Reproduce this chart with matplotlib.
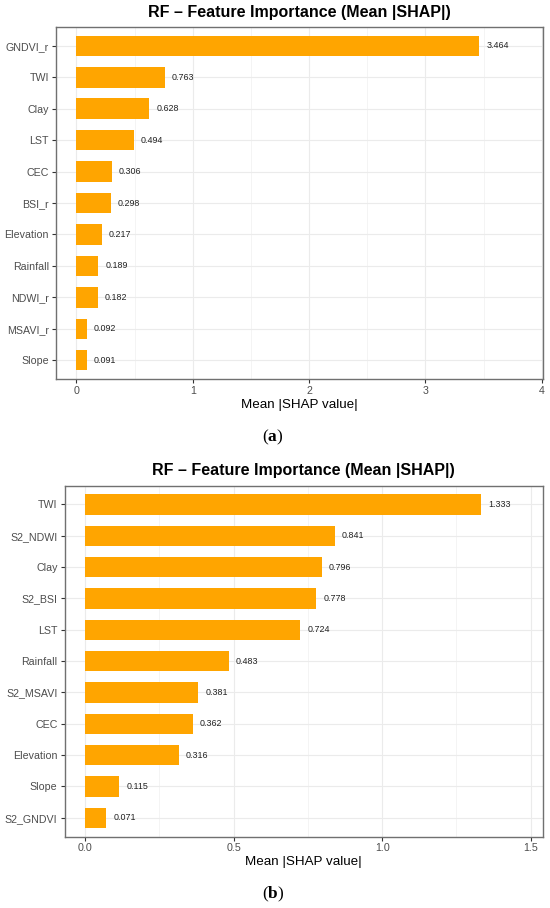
import matplotlib
matplotlib.use("Agg")
import matplotlib.pyplot as plt
from matplotlib.ticker import MultipleLocator

plt.rcParams['font.family'] = ['Liberation Sans', 'DejaVu Sans']
plt.rcParams['mathtext.fontset'] = 'custom'
plt.rcParams['mathtext.rm'] = 'Liberation Serif'
plt.rcParams['mathtext.bf'] = 'Liberation Serif:bold'

title_text = "RF – Feature Importance (Mean |SHAP|)"
xlabel_text = "Mean |SHAP value|"

features_a = ["GNDVI_r", "TWI", "Clay", "LST", "CEC", "BSI_r", "Elevation",
              "Rainfall", "NDWI_r", "MSAVI_r", "Slope"]
values_a = [3.464, 0.763, 0.628, 0.494, 0.306, 0.298, 0.217, 0.189, 0.182, 0.092, 0.091]
ticks_a = [0, 1, 2, 3, 4]
ticklabels_a = ["0", "1", "2", "3", "4"]

features_b = ["TWI", "S2_NDWI", "Clay", "S2_BSI", "LST", "Rainfall", "S2_MSAVI",
              "CEC", "Elevation", "Slope", "S2_GNDVI"]
values_b = [1.333, 0.841, 0.796, 0.778, 0.724, 0.483, 0.381, 0.362, 0.316, 0.115, 0.071]
ticks_b = [0.0, 0.5, 1.0, 1.5]
ticklabels_b = ["0.0", "0.5", "1.0", "1.5"]

BAR = "#FFA500"
W, H = 550, 908
fig = plt.figure(figsize=(W / 100, H / 100), dpi=100)


def panel(rect, feats, vals, ticks, tlabels, xlim, minor, title_y, caption, cap_y):
    ax = fig.add_axes(rect)
    f = feats[::-1]
    v = vals[::-1]
    ax.barh(f, v, height=0.65, color=BAR, edgecolor="none", zorder=2)
    for name, val in zip(f, v):
        ax.annotate(f"{val:.3f}", xy=(val, name), xytext=(5, 0),
                    textcoords="offset points", va="center", ha="left",
                    fontsize=6.4, color="#222222", zorder=3)
    ax.set_xlim(*xlim)
    ax.set_ylim(-0.6, len(f) - 0.4)
    ax.set_xticks(ticks)
    ax.set_xticklabels(tlabels)
    ax.xaxis.set_minor_locator(MultipleLocator(minor))
    ax.grid(True, which="major", axis="both", color="#EBEBEB", lw=0.8, zorder=0)
    ax.grid(True, which="minor", axis="x", color="#F2F2F2", lw=0.6, zorder=0)
    ax.set_axisbelow(True)
    ax.tick_params(axis="both", which="major", length=3, width=0.8, color="#333333",
                   labelsize=7.7, labelcolor="#4D4D4D", pad=2)
    ax.tick_params(axis="x", which="minor", length=0)
    for s in ax.spines.values():
        s.set_color("#707070")
        s.set_linewidth(1.0)
    ax.set_xlabel(xlabel_text, fontsize=9.6, color="black", labelpad=2)
    cx = rect[0] + rect[2] / 2
    fig.text(cx, 1 - title_y / H, title_text, ha="center", va="center",
             fontsize=11.5, fontweight="bold", color="black")
    fig.text(273 / W, 1 - cap_y / H, "($\\mathbf{" + caption + "}$)",
             ha="center", va="center", fontsize=12.5, family="Liberation Serif",
             color="black")
    return ax


panel([56 / W, 1 - 379 / H, 487 / W, 352 / H], features_a, values_a, ticks_a,
      ticklabels_a, (-0.175, 4.01), 0.5, 12, "a", 437)
panel([64.5 / W, 1 - 836.5 / H, 478.5 / W, 350.8 / H], features_b, values_b, ticks_b,
      ticklabels_b, (-0.07, 1.542), 0.25, 471, "b", 894)

fig.savefig("out.png", dpi=100)
